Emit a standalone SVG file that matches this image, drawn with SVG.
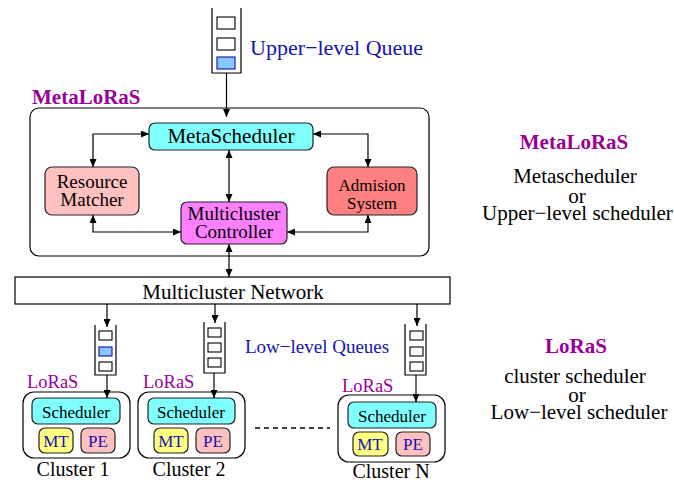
<svg xmlns="http://www.w3.org/2000/svg" width="674" height="483" viewBox="0 0 674 483">
  <style>
    .t { font-family: "Liberation Serif", "Times New Roman", serif; fill: #000; }
    .blue { fill: #1414b4; }
    .purple { fill: #990099; }
    .b { font-weight: bold; }
    .box { stroke: #222; stroke-width: 1.2; }
    .line { fill: none; stroke: #000; stroke-width: 1.2; }
    .q { fill: none; stroke: #000; stroke-width: 1.2; }
    .slot { fill: #fff; stroke: #000; stroke-width: 1.1; }
    .slot-on { fill: #88c8ff; stroke: #10109a; stroke-width: 1.1; }
    .conn { fill: none; stroke: #000; stroke-width: 1.2; marker-end: url(#arr); }
    .conn2 { fill: none; stroke: #000; stroke-width: 1.2; marker-start: url(#arr); marker-end: url(#arr); }
  </style>
  <defs>
    <marker id="arr" markerUnits="userSpaceOnUse" markerWidth="9" markerHeight="7" refX="8" refY="3.5" orient="auto-start-reverse">
      <path d="M0,0 L8,3.5 L0,7 z" fill="#000"/>
    </marker>
  </defs>

  <rect width="674" height="483" fill="#fff"/>

  <!-- upper-level queue -->
  <g id="upper-queue">
    <path class="q" d="M212,8 V73 H241 V8"/>
    <rect class="slot" x="217" y="17" width="18" height="12"/>
    <rect class="slot" x="217" y="38" width="18" height="12"/>
    <rect class="slot-on" x="217" y="57" width="18" height="12"/>
    <text class="t blue" x="250" y="55" font-size="22">Upper−level Queue</text>
  </g>

  <!-- MetaLoRaS container -->
  <g id="metaloras">
    <text class="t purple b" x="32" y="104" font-size="21">MetaLoRaS</text>
    <rect x="30" y="108" width="399" height="148" rx="9" fill="#fff" stroke="#000" stroke-width="1.2"/>
  </g>

  <g id="metascheduler">
    <rect class="box" x="149" y="123" width="164" height="27" rx="6" fill="#80ffff"/>
    <text class="t" x="231" y="143" font-size="21" text-anchor="middle">MetaScheduler</text>
  </g>

  <g id="resource-matcher">
    <rect class="box" x="45" y="167" width="94" height="48" rx="7" fill="#ffc0c0"/>
    <text class="t" x="92" y="188" font-size="19" text-anchor="middle">Resource</text>
    <text class="t" x="92" y="206" font-size="19" text-anchor="middle">Matcher</text>
  </g>

  <g id="admision-system">
    <rect class="box" x="327" y="167" width="90" height="48" rx="7" fill="#ff8080"/>
    <text class="t" x="372" y="191" font-size="17" text-anchor="middle">Admision</text>
    <text class="t" x="372" y="209" font-size="17" text-anchor="middle">System</text>
  </g>

  <g id="multicluster-controller">
    <rect class="box" x="181" y="202" width="106" height="42" rx="6" fill="#ff80ff"/>
    <text class="t" x="234" y="220" font-size="19" text-anchor="middle">Multicluster</text>
    <text class="t" x="234" y="238" font-size="19" text-anchor="middle">Controller</text>
  </g>

  <g id="multicluster-network">
    <rect x="15" y="277" width="435" height="27" fill="#fff" stroke="#000" stroke-width="1.2"/>
    <text class="t" x="233" y="299" font-size="21" text-anchor="middle">Multicluster Network</text>
  </g>

  <!-- low-level queues -->
  <g id="queue-1">
    <path class="q" d="M95,325 V375 H116 V325"/>
    <rect class="slot" x="99" y="331" width="13" height="9"/>
    <rect class="slot-on" x="99" y="347" width="13" height="9"/>
    <rect class="slot" x="99" y="362" width="13" height="9"/>
  </g>
  <g id="queue-2">
    <path class="q" d="M204,322 V373 H225 V322"/>
    <rect class="slot" x="208" y="328" width="13" height="9"/>
    <rect class="slot" x="208" y="343" width="13" height="9"/>
    <rect class="slot" x="208" y="358" width="13" height="9"/>
  </g>
  <g id="queue-n">
    <path class="q" d="M405,324 V375 H426 V324" stroke="#444"/>
    <rect class="slot" x="410" y="331" width="13" height="9" stroke="#333"/>
    <rect class="slot" x="410" y="347" width="13" height="9" stroke="#333"/>
    <rect class="slot" x="410" y="362" width="13" height="9" stroke="#333"/>
  </g>
  <text class="t blue" x="245" y="353" font-size="19">Low−level Queues</text>

  <!-- clusters -->
  <g id="cluster-1">
    <text class="t purple" x="27" y="388" font-size="18.5">LoRaS</text>
    <rect x="23" y="392" width="107" height="66" rx="11" fill="#fff" stroke="#000" stroke-width="1.2"/>
    <rect class="box" x="32" y="398" width="88" height="26" rx="6" fill="#80ffff"/>
    <text class="t" x="76" y="418" font-size="17" text-anchor="middle">Scheduler</text>
    <rect class="box" x="39" y="428" width="34" height="25" rx="6" fill="#ffff80"/>
    <text class="t blue" x="56" y="447" font-size="17" text-anchor="middle">MT</text>
    <rect class="box" x="81" y="428" width="34" height="25" rx="6" fill="#ffc0c0"/>
    <text class="t blue" x="98" y="447" font-size="17" text-anchor="middle">PE</text>
    <text class="t" x="73" y="476" font-size="20" text-anchor="middle">Cluster 1</text>
  </g>

  <g id="cluster-2">
    <text class="t purple" x="143" y="388" font-size="18.5">LoRaS</text>
    <rect x="138" y="392" width="107" height="66" rx="11" fill="#fff" stroke="#000" stroke-width="1.2"/>
    <rect class="box" x="148" y="398" width="87" height="26" rx="6" fill="#80ffff"/>
    <text class="t" x="191" y="418" font-size="17" text-anchor="middle">Scheduler</text>
    <rect class="box" x="154" y="428" width="34" height="25" rx="6" fill="#ffff80"/>
    <text class="t blue" x="171" y="447" font-size="17" text-anchor="middle">MT</text>
    <rect class="box" x="196" y="428" width="34" height="25" rx="6" fill="#ffc0c0"/>
    <text class="t blue" x="213" y="447" font-size="17" text-anchor="middle">PE</text>
    <text class="t" x="189" y="476" font-size="20" text-anchor="middle">Cluster 2</text>
  </g>

  <g id="cluster-n">
    <text class="t purple" x="342" y="392" font-size="18.5">LoRaS</text>
    <rect x="338" y="395" width="107" height="67" rx="11" fill="#fff" stroke="#000" stroke-width="1.2"/>
    <rect class="box" x="348" y="402" width="88" height="26" rx="6" fill="#80ffff"/>
    <text class="t" x="392" y="422" font-size="17" text-anchor="middle">Scheduler</text>
    <rect class="box" x="353" y="432" width="35" height="24" rx="6" fill="#ffff80"/>
    <text class="t blue" x="370" y="450" font-size="17" text-anchor="middle">MT</text>
    <rect class="box" x="396" y="432" width="34" height="24" rx="6" fill="#ffc0c0"/>
    <text class="t blue" x="413" y="450" font-size="17" text-anchor="middle">PE</text>
    <text class="t" x="391" y="478" font-size="20" text-anchor="middle">Cluster N</text>
  </g>

  <!-- ellipsis between clusters -->
  <line x1="255" y1="428" x2="330" y2="428" stroke="#000" stroke-width="1.5" stroke-dasharray="5,4"/>

  <!-- connectors -->
  <g id="connectors">
    <path class="conn" d="M226.5,73 V117"/>
    <path class="conn2" d="M149,134 H93 V167"/>
    <path class="conn2" d="M313,134 H368 V167"/>
    <path class="conn2" d="M229,150 V202"/>
    <path class="conn2" d="M93,215 V232 H181"/>
    <path class="conn2" d="M368,215 V232 H287"/>
    <path class="conn2" d="M229,244 V277"/>
    <path class="conn" d="M107,304 V327"/>
    <path class="conn" d="M215,304 V323"/>
    <path class="conn" d="M417,304 V326" stroke="#444"/>
    <path class="conn" d="M107,375 V398"/>
    <path class="conn" d="M214,373 V398"/>
    <path class="conn" d="M416,375 V402" stroke="#444"/>
  </g>

  <!-- legend -->
  <g id="legend-meta">
    <text class="t purple b" x="574" y="149" font-size="21" text-anchor="middle">MetaLoRaS</text>
    <text class="t" x="575" y="183" font-size="21" text-anchor="middle">Metascheduler</text>
    <text class="t" x="577" y="203" font-size="21" text-anchor="middle">or</text>
    <text class="t" x="482" y="220" font-size="21">Upper−level scheduler</text>
  </g>
  <g id="legend-low">
    <text class="t purple b" x="576" y="353" font-size="21" text-anchor="middle">LoRaS</text>
    <text class="t" x="575" y="383" font-size="21" text-anchor="middle">cluster scheduler</text>
    <text class="t" x="577" y="402" font-size="21" text-anchor="middle">or</text>
    <text class="t" x="579" y="419" font-size="21" text-anchor="middle">Low−level scheduler</text>
  </g>
</svg>
